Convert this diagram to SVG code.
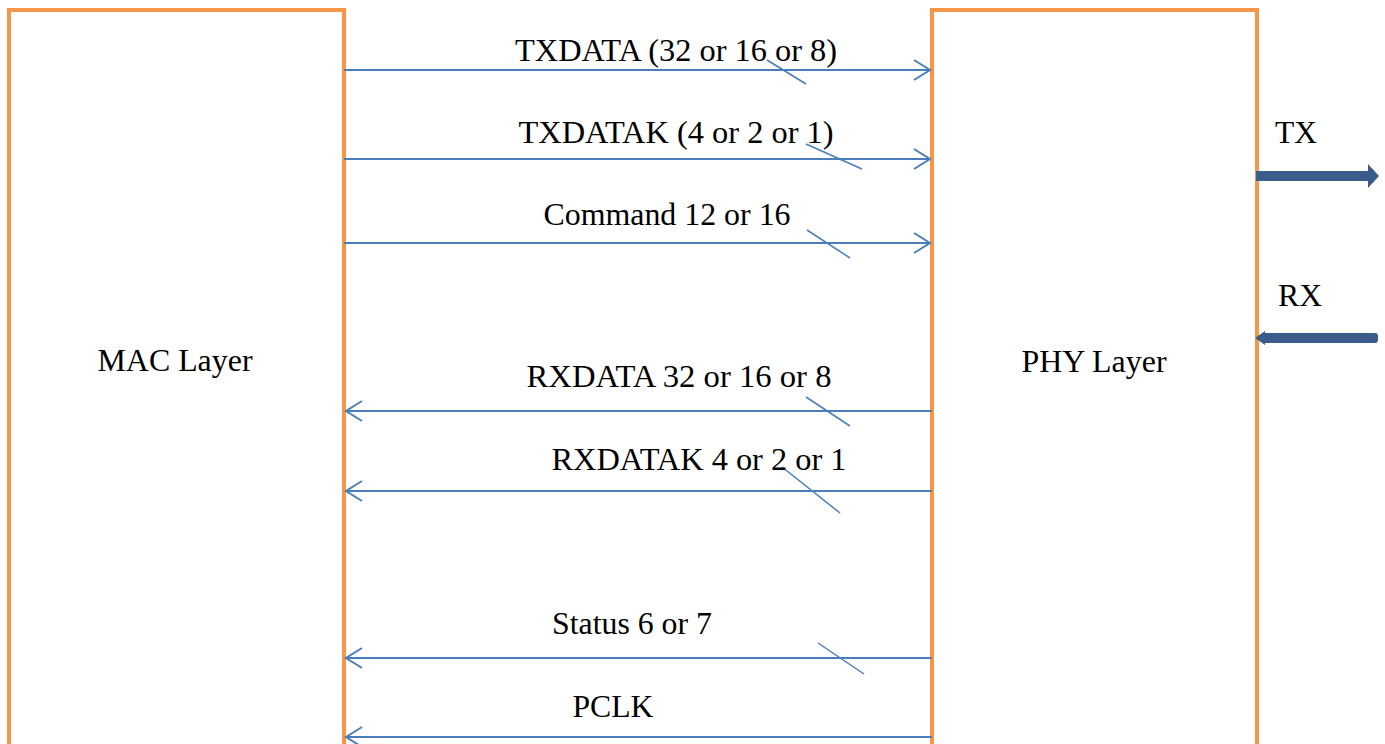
<svg xmlns="http://www.w3.org/2000/svg" width="1385" height="744" viewBox="0 0 1385 744">
<style>
.box{fill:#fff;stroke:#F79646;stroke-width:4}
.t{font-family:"Liberation Serif","Times New Roman",serif;font-size:32px;fill:#000;text-anchor:middle}
.sig{stroke:#4A7EBB;stroke-width:2;fill:none}
.tick{stroke:#4A7EBB;stroke-width:1.5}
.io{fill:#3B5C8A}
</style>
<defs>
<marker id="open" viewBox="0 0 20 24" refX="18" refY="12" markerWidth="20" markerHeight="24" markerUnits="userSpaceOnUse" orient="auto">
<path d="M2,2 L18,12 L2,22" fill="none" stroke="#4A7EBB" stroke-width="2"/>
</marker>
</defs>
<rect width="1385" height="744" fill="#fff"/>
<g id="mac">
<rect class="box" x="9" y="10" width="335" height="760"/>
<text class="t" x="175" y="371" textLength="155" lengthAdjust="spacingAndGlyphs">MAC Layer</text>
</g>
<g id="phy">
<rect class="box" x="932" y="10" width="325" height="760"/>
<text class="t" x="1094" y="372" textLength="145" lengthAdjust="spacingAndGlyphs">PHY Layer</text>
</g>
<g id="connectors">
<line class="sig" x1="344" y1="70" x2="930" y2="70" marker-end="url(#open)"/>
<line class="tick" x1="767" y1="60" x2="806" y2="84"/>
<text class="t" x="676" y="61" textLength="322" lengthAdjust="spacingAndGlyphs">TXDATA (32 or 16 or 8)</text>

<line class="sig" x1="344" y1="159" x2="930" y2="159" marker-end="url(#open)"/>
<line class="tick" x1="806" y1="144" x2="862" y2="169"/>
<text class="t" x="676" y="143" textLength="315" lengthAdjust="spacingAndGlyphs">TXDATAK (4 or 2 or 1)</text>

<line class="sig" x1="344" y1="243" x2="930" y2="243" marker-end="url(#open)"/>
<line class="tick" x1="807" y1="230" x2="850" y2="258"/>
<text class="t" x="667" y="225" textLength="247" lengthAdjust="spacingAndGlyphs">Command 12 or 16</text>

<line class="sig" x1="932" y1="411" x2="346" y2="411" marker-end="url(#open)"/>
<line class="tick" x1="806" y1="397" x2="850" y2="426"/>
<text class="t" x="679" y="387" textLength="305" lengthAdjust="spacingAndGlyphs">RXDATA 32 or 16 or 8</text>

<line class="sig" x1="932" y1="491" x2="346" y2="491" marker-end="url(#open)"/>
<line class="tick" x1="782" y1="467" x2="840" y2="513"/>
<text class="t" x="699" y="470" textLength="295" lengthAdjust="spacingAndGlyphs">RXDATAK 4 or 2 or 1</text>

<line class="sig" x1="932" y1="658" x2="346" y2="658" marker-end="url(#open)"/>
<line class="tick" x1="818" y1="643" x2="864" y2="674"/>
<text class="t" x="632" y="634" textLength="160" lengthAdjust="spacingAndGlyphs">Status 6 or 7</text>

<line class="sig" x1="932" y1="737" x2="346" y2="737" marker-end="url(#open)"/>
<text class="t" x="613" y="717" textLength="81" lengthAdjust="spacingAndGlyphs">PCLK</text>

<polygon class="io" points="1256,171 1368,171 1368,164 1379,176 1368,188 1368,181 1256,181"/>
<text class="t" x="1296" y="143" textLength="42" lengthAdjust="spacingAndGlyphs">TX</text>
<path class="io" d="M1255,338 L1265,331 L1265,333 L1375,333 Q1378,333 1378,336 L1378,340 Q1378,343 1375,343 L1265,343 L1265,345 Z"/>
<text class="t" x="1300" y="306" textLength="44" lengthAdjust="spacingAndGlyphs">RX</text>
</g>
</svg>
